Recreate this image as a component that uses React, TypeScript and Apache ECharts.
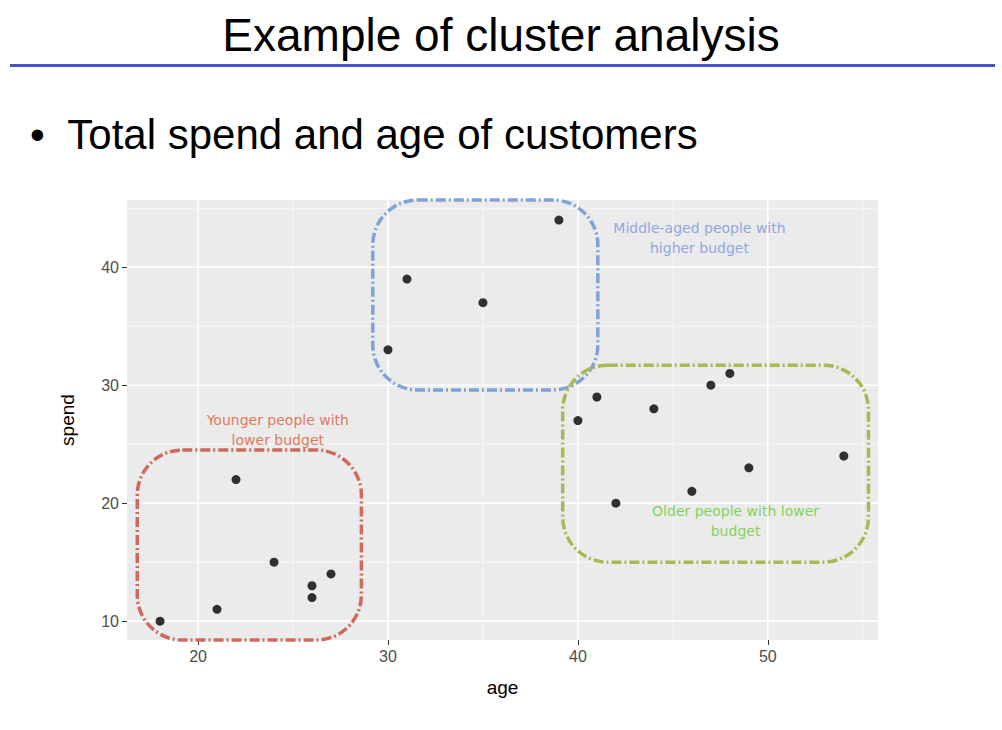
import React, { useEffect, useRef } from "react";
import * as echarts from "echarts";

const ages = [18, 21, 22, 24, 26, 26, 27, 30, 31, 35, 39, 40, 41, 42, 44, 46, 47, 48, 49, 54];
const spends = [10, 11, 22, 15, 13, 12, 14, 33, 39, 37, 44, 27, 29, 20, 28, 21, 30, 31, 23, 24];
const xTicks = [20, 30, 40, 50];
const yTicks = [10, 20, 30, 40];
const xMinor = [25, 35, 45, 55];
const yMinor = [15, 25, 35, 45];

const X_MIN = 16.26;
const X_MAX = 55.8;
const Y_MIN = 8.4;
const Y_MAX = 45.7;

// cluster boxes in data units: [xMin, xMax, yMin, yMax]
const boxes = [
  { x: [16.8, 28.6], y: [8.4, 24.5], color: "#d0695c" },
  { x: [29.2, 41.05], y: [29.6, 45.7], color: "#7fa3d6" },
  { x: [39.2, 55.3], y: [15.0, 31.7], color: "#aab850" },
];

const notes = [
  { text: "Younger people with\nlower budget", x: 24.2, y: 26.2, color: "#e07a5f" },
  { text: "Middle-aged people with\nhigher budget", x: 46.4, y: 42.5, color: "#8fa8e0" },
  { text: "Older people with lower\nbudget", x: 48.3, y: 18.5, color: "#7fd35a" },
];

const gridLine = (pts: number[][], color: string, width: number) => ({
  type: "line" as const,
  data: pts,
  symbol: "none",
  z: 0,
  silent: true,
  lineStyle: { color, width },
});

const App: React.FC = () => {
  const chartRef = useRef<HTMLDivElement>(null);

  useEffect(() => {
    if (!chartRef.current) return;
    const chart = echarts.init(chartRef.current, null, { renderer: "svg" });

    const axisLabel = { color: "#4d4d4d", fontSize: 16, fontFamily: "Liberation Sans" };
    const option: echarts.EChartsOption = {
      animation: false,
      backgroundColor: "#fff",
      grid: { left: 127, right: 124, top: 200, bottom: 90, backgroundColor: "#ebebeb", show: true, borderWidth: 0 },
      xAxis: {
        type: "value",
        min: X_MIN,
        max: X_MAX,
        name: "age",
        nameLocation: "middle",
        nameGap: 38,
        nameTextStyle: { color: "#000", fontSize: 19, fontFamily: "Liberation Sans" },
        axisLine: { show: false },
        axisTick: { show: true, customValues: xTicks, lineStyle: { color: "#333" } } as any,
        axisLabel: { ...axisLabel, customValues: xTicks } as any,
        splitLine: { show: false },
      },
      yAxis: {
        type: "value",
        min: Y_MIN,
        max: Y_MAX,
        name: "spend",
        nameLocation: "middle",
        nameGap: 50,
        nameTextStyle: { color: "#000", fontSize: 19, fontFamily: "Liberation Sans" },
        axisLine: { show: false },
        axisTick: { show: true, customValues: yTicks, lineStyle: { color: "#333" } } as any,
        axisLabel: { ...axisLabel, customValues: yTicks } as any,
        splitLine: { show: false },
      },
      series: [
        {
          type: "scatter",
          data: ages.map((a, i) => [a, spends[i]]),
          symbolSize: 9,
          z: 5,
          itemStyle: { color: "#000" },
        },
        ...yTicks.map((v) => gridLine([[X_MIN, v], [X_MAX, v]], "#fff", 1.6)),
        ...yMinor.map((v) => gridLine([[X_MIN, v], [X_MAX, v]], "#f6f6f6", 1)),
        ...xTicks.map((v) => gridLine([[v, Y_MIN], [v, Y_MAX]], "#fff", 1.6)),
        ...xMinor.map((v) => gridLine([[v, Y_MIN], [v, Y_MAX]], "#f6f6f6", 1)),
      ],
    };
    chart.setOption(option);

    const px = (x: number, y: number) => chart.convertToPixel({ gridIndex: 0 }, [x, y]) as number[];
    const graphics: any[] = [
      {
        type: "text",
        left: "center",
        top: 12,
        style: { text: "Example of cluster analysis", fontSize: 46, fontFamily: "Liberation Sans", fill: "#000" },
      },
      { type: "rect", shape: { x: 10, y: 64, width: 985, height: 3 }, style: { fill: "#4a52c9" } },
      {
        type: "text",
        left: 30,
        top: 113,
        style: { text: "•  Total spend and age of customers", fontSize: 42, fontFamily: "Liberation Sans", fill: "#000" },
      },
    ];
    boxes.forEach((b) => {
      const p1 = px(b.x[0], b.y[1]);
      const p2 = px(b.x[1], b.y[0]);
      graphics.push({
        type: "rect",
        z: 10,
        shape: { x: p1[0], y: p1[1], width: p2[0] - p1[0], height: p2[1] - p1[1], r: 45 },
        style: { fill: "none", stroke: b.color, lineWidth: 3.5, lineDash: [10, 3, 2, 3] },
      });
    });
    notes.forEach((n) => {
      const p = px(n.x, n.y);
      graphics.push({
        type: "text",
        x: p[0],
        y: p[1],
        z: 10,
        style: {
          text: n.text,
          fontSize: 14,
          fontFamily: "DejaVu Sans",
          fill: n.color,
          align: "center",
          verticalAlign: "middle",
          lineHeight: 20,
        },
      });
    });
    chart.setOption({ graphic: graphics });

    return () => chart.dispose();
  }, []);

  return (
    <div
      ref={chartRef}
      style={{ position: "fixed", left: 0, top: 0, width: "1002px", height: "730px" }}
    />
  );
};

export default App;
